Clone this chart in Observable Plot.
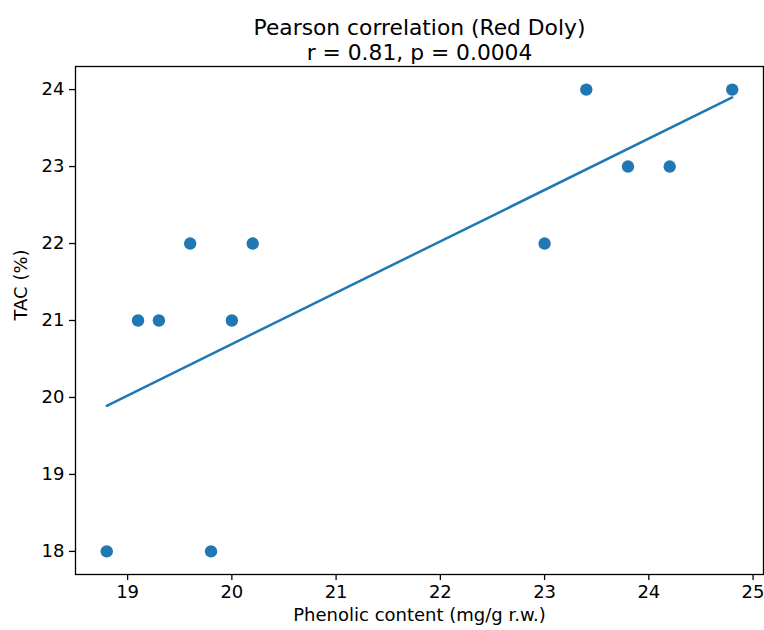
<!DOCTYPE html>
<html>
<head>
<meta charset="utf-8">
<script src="https://cdn.jsdelivr.net/npm/d3@7"></script>
<script src="https://cdn.jsdelivr.net/npm/@observablehq/plot@0.6"></script>
<style>
  html, body { margin: 0; padding: 0; background: #fff; }
</style>
</head>
<body>
<div id="chart"></div>
<script>
const phenolic = [18.8, 19.1, 19.3, 19.6, 19.8, 20.0, 20.2, 23.0, 23.4, 23.8, 24.2, 24.8];
const tac      = [18,   21,   21,   22,   18,   21,   22,   22,   24,   23,   23,   24];
const xTicks = [19, 20, 21, 22, 23, 24, 25];
const yTicks = [18, 19, 20, 21, 22, 23, 24];
const titleLines = ["Pearson correlation (Red Doly)", "r = 0.81, p = 0.0004"];
const xLabel = "Phenolic content (mg/g r.w.)";
const yLabel = "TAC (%)";

const data = phenolic.map((x, i) => ({x, y: tac[i]}));
const blue = "#1f77b4";
const fs = 18;

const chart = Plot.plot({
  width: 764,
  height: 630,
  marginTop: 66,
  marginBottom: 56,
  marginLeft: 75,
  marginRight: 1,
  style: {fontFamily: "DejaVu Sans", color: "#000", background: "#fff"},
  x: {domain: [18.5, 25.1]},
  y: {domain: [17.7, 24.3]},
  marks: [
    Plot.frame({stroke: "#000", strokeWidth: 1.3}),
    Plot.axisX({ticks: xTicks, tickSize: 6, tickPadding: 5, fontSize: fs, label: null, tickFormat: d => String(d), stroke: "#000", strokeWidth: 1.3}),
    Plot.axisY({ticks: yTicks, tickSize: 6, tickPadding: 5, fontSize: fs, label: null, tickFormat: d => String(d), stroke: "#000", strokeWidth: 1.3}),
    Plot.dot(data, {x: "x", y: "y", r: 6.2, fill: blue, stroke: "none"}),
    Plot.linearRegressionY(data, {x: "x", y: "y", ci: 0, stroke: blue, strokeWidth: 2.5}),
    Plot.text([titleLines[0]], {frameAnchor: "top", dy: -47, fontSize: 21.8, fill: "#000"}),
    Plot.text([titleLines[1]], {frameAnchor: "top", dy: -22, fontSize: 21.8, fill: "#000"}),
    Plot.text([xLabel], {frameAnchor: "bottom", dy: 46, fontSize: fs, fill: "#000"}),
    Plot.text([yLabel], {frameAnchor: "left", dx: -54, rotate: -90, fontSize: fs, fill: "#000"})
  ]
});
document.getElementById("chart").appendChild(chart);
</script>
</body>
</html>
